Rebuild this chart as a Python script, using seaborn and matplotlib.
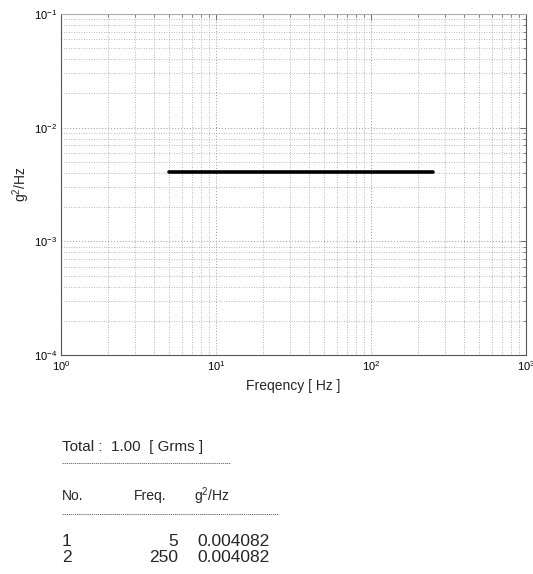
import numpy as np
import pandas as pd
import matplotlib
matplotlib.use("Agg")
import matplotlib.pyplot as plt
import seaborn as sns
from matplotlib.ticker import LogLocator, NullFormatter

# Data
freq = [5, 250]
psd = [0.004082, 0.004082]
point_no = [1, 2]
total_grms = "1.00"
x_label = "Freqency [ Hz ]"
y_label = "g$^2$/Hz"

sns.set_theme(style="white")
plt.rcParams['font.family'] = ['Liberation Sans', 'DejaVu Sans']
plt.rcParams['mathtext.fontset'] = 'custom'
plt.rcParams['mathtext.rm'] = 'Liberation Sans'
plt.rcParams['mathtext.it'] = 'Liberation Sans'
plt.rcParams['mathtext.default'] = 'regular'

fig = plt.figure(figsize=(5.33, 5.74), dpi=100)
ax = fig.add_axes([61/533, 1-355/574, (526-61)/533, (355-14)/574])

df = pd.DataFrame({"freq": freq, "psd": psd})
sns.lineplot(data=df, x="freq", y="psd", ax=ax, color="black", linewidth=2.6)

ax.set_xscale("log")
ax.set_yscale("log")
ax.set_xlim(1, 1000)
ax.set_ylim(1e-4, 1e-1)
ax.xaxis.set_major_locator(LogLocator(base=10))
ax.yaxis.set_major_locator(LogLocator(base=10))
ax.xaxis.set_minor_locator(LogLocator(base=10, subs=np.arange(2, 10)))
ax.yaxis.set_minor_locator(LogLocator(base=10, subs=np.arange(2, 10)))
ax.xaxis.set_minor_formatter(NullFormatter())
ax.yaxis.set_minor_formatter(NullFormatter())

ax.grid(True, which="major", linestyle=(0, (1, 2)), color="#999999", linewidth=0.7)
ax.grid(True, which="minor", linestyle=(0, (1, 2)), color="#a0a0a0", linewidth=0.6)
ax.set_axisbelow(True)

for s in ax.spines.values():
    s.set_color("#555555")
    s.set_linewidth(0.8)
ax.spines["top"].set_color("#aaaaaa")

ax.tick_params(which="both", direction="in", top=True, right=True, colors="#555555",
               labelcolor="black", labelsize=8)
ax.tick_params(which="major", length=4, width=0.6, pad=3)
ax.tick_params(which="minor", length=2, width=0.5)

ax.set_xlabel(x_label, fontsize=10, labelpad=4)
ax.set_ylabel(y_label, fontsize=10, labelpad=1)

# Table below
def fy(y):
    return 1 - y / 574
def fx(x):
    return x / 533

fig.text(fx(62), fy(447), f"Total :  {total_grms}  [ Grms ]", fontsize=11, va="center", ha="left")
fig.add_artist(plt.Line2D([fx(62), fx(230)], [fy(463), fy(463)], color="#555555",
                          linewidth=0.6, linestyle=(0, (1.5, 1))))
fig.text(fx(62), fy(496), "No.", fontsize=10, va="center", ha="left")
fig.text(fx(134), fy(496), "Freq.", fontsize=10, va="center", ha="left")
fig.text(fx(194), fy(496), "g$^2$/Hz", fontsize=10, va="center", ha="left")
fig.add_artist(plt.Line2D([fx(62), fx(278)], [fy(514), fy(514)], color="#555555",
                          linewidth=0.6, linestyle=(0, (1.5, 1))))
row_y = [542, 557]
for n, f, p, yy in zip(point_no, freq, psd, row_y):
    fig.text(fx(62), fy(yy), f"{n}", fontsize=12.5, va="center", ha="left")
    fig.text(fx(178), fy(yy), f"{f}", fontsize=12.5, va="center", ha="right")
    fig.text(fx(197), fy(yy), f"{p:.6f}", fontsize=12.5, va="center", ha="left")

fig.savefig("out.png", dpi=100)
